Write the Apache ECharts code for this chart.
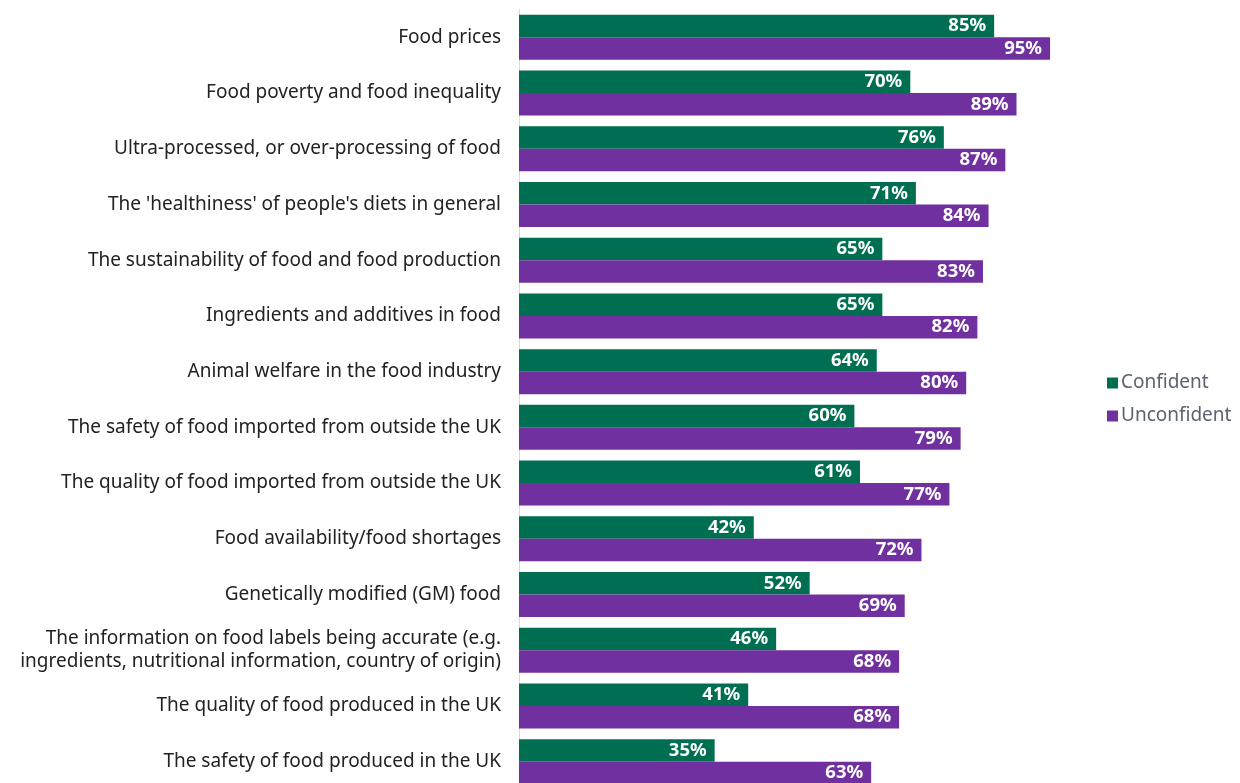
<!DOCTYPE html>
<html>
<head>
<meta charset="utf-8">
<script src="https://cdn.jsdelivr.net/npm/echarts@6/dist/echarts.min.js"></script>
<style>
  html, body { margin: 0; padding: 0; background: #ffffff; overflow: hidden; }
  #chart { width: 1240px; height: 792px; }
</style>
</head>
<body>
<div id="chart"></div>
<script>
// Food concern topics, listed top to bottom
const categories = [
  "Food prices",
  "Food poverty and food inequality",
  "Ultra-processed, or over-processing of food",
  "The 'healthiness' of people's diets in general",
  "The sustainability of food and food production",
  "Ingredients and additives in food",
  "Animal welfare in the food industry",
  "The safety of food imported from outside the UK",
  "The quality of food imported from outside the UK",
  "Food availability/food shortages",
  "Genetically modified (GM) food",
  "The information on food labels being accurate (e.g.\ningredients, nutritional information, country of origin)",
  "The quality of food produced in the UK",
  "The safety of food produced in the UK"
];

// Share concerned (%) by confidence group
const confident   = [85, 70, 76, 71, 65, 65, 64, 60, 61, 42, 52, 46, 41, 35];
const unconfident = [95, 89, 87, 84, 83, 82, 80, 79, 77, 72, 69, 68, 68, 63];

const FONT = "Noto Sans";
const GREEN = "#006f51";
const PURPLE = "#7030a0";

const chart = echarts.init(document.getElementById("chart"), null, { renderer: "canvas" });

const barLabel = {
  show: true,
  position: "insideRight",
  distance: 8,
  color: "#ffffff",
  fontFamily: FONT,
  fontWeight: "bold",
  fontSize: 18.5,
  formatter: p => p.value + "%"
};

chart.setOption({
  animation: false,
  backgroundColor: "#ffffff",
  grid: {
    left: 519, top: 9.5, width: 559, height: 780,
    containLabel: false,
    outerBoundsMode: "none"
  },
  legend: {
    orient: "vertical",
    left: 1102,
    top: 368,
    itemWidth: 11,
    itemHeight: 11,
    itemGap: 13,
    icon: "rect",
    textStyle: { fontFamily: FONT, fontSize: 19, lineHeight: 20, color: "#5b6270", padding: [0, 0, 0, -2] },
    data: ["Confident", "Unconfident"]
  },
  xAxis: {
    type: "value",
    min: 0,
    max: 100,
    show: false
  },
  yAxis: {
    type: "category",
    inverse: true,
    data: categories,
    axisLine: { show: true, lineStyle: { color: "#d9d9d9", width: 1 } },
    axisTick: { show: false },
    axisLabel: {
      fontFamily: FONT,
      fontSize: 19,
      color: "#222222",
      margin: 18,
      lineHeight: 23,
      align: "right"
    }
  },
  series: [
    {
      name: "Confident",
      type: "bar",
      data: confident,
      itemStyle: { color: GREEN },
      barWidth: 22.5,
      barGap: "0%",
      label: barLabel
    },
    {
      name: "Unconfident",
      type: "bar",
      data: unconfident,
      itemStyle: { color: PURPLE },
      barWidth: 22.5,
      barGap: "0%",
      label: barLabel
    }
  ]
});
</script>
</body>
</html>
